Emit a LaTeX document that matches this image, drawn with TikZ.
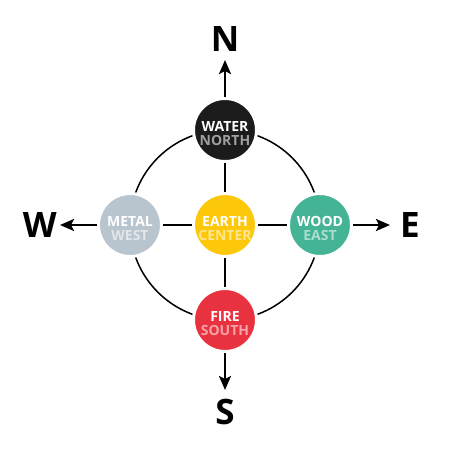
\documentclass[tikz,border=0pt]{standalone}
\usepackage{fontspec}
\setmainfont{Open Sans}
\usetikzlibrary{positioning}
\usetikzlibrary{arrows.meta}
\definecolor{waterc}{HTML}{1B1B1B}
\definecolor{metalc}{HTML}{B8C4CE}
\definecolor{earthc}{HTML}{FDC80A}
\definecolor{woodc}{HTML}{45B496}
\definecolor{firec}{HTML}{E8323F}

\begin{document}
\begin{tikzpicture}[x=1pt, y=-1pt, node distance=29pt,
    elem/.style={circle, fill=#1, draw=white, line width=3pt, minimum size=63pt,
      inner sep=0pt, outer sep=1.5pt, align=center, text=white, text height=31pt,
      font=\fontsize{14}{13.5}\selectfont\bfseries},
    dir/.style={inner sep=0pt, font=\fontsize{35}{35}\selectfont\bfseries},
    spoke/.style={line width=2.5pt},
    arr/.style={line width=2.5pt, -{Stealth[length=14pt, width=12pt, inset=3pt]}}]
    \useasboundingbox (0,0) rectangle (450,469);

    \draw[line width=1.5pt] (225,225) circle (95);

    \node[elem=earthc] (earth) at (225,225) {EARTH\\\color{earthc!45!white}CENTER};
    \node[elem=waterc, above = of earth] (water) {WATER\\\color{gray!75}NORTH};
    \node[elem=metalc, left = of earth] (metal) {METAL\\\color{metalc!40!white}WEST};
    \node[elem=woodc, right = of earth] (wood) {WOOD\\\color{woodc!45!white}EAST};
    \node[elem=firec, below = of earth] (fire) {FIRE\\\color{firec!45!white}SOUTH};

    \draw[spoke] (earth) -- (water);
    \draw[spoke] (earth) -- (metal);
    \draw[spoke] (earth) -- (wood);
    \draw[spoke] (earth) -- (fire);

    \node[dir, above = 45pt of water] (north) {N};
    \node[dir, left = 40pt of metal] (west) {W};
    \node[dir, right = 47pt of wood] (east) {E};
    \node[dir, below = 46pt of fire] (south) {S};

    \draw[arr, shorten >=8pt] (water) -- (north);
    \draw[arr, shorten >=3pt] (metal) -- (west);
    \draw[arr, shorten >=10pt] (wood) -- (east);
    \draw[arr, shorten >=9pt] (fire) -- (south);
\end{tikzpicture}
\end{document}
